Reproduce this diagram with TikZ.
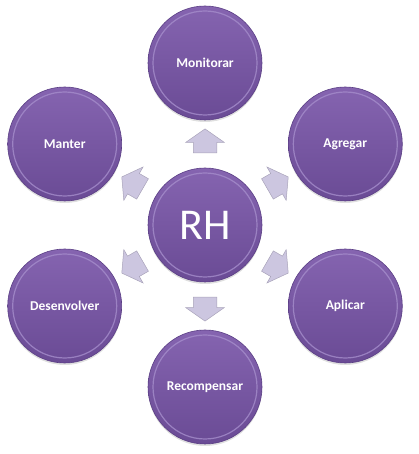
\documentclass[tikz,border=0pt]{standalone}
\usepackage{fontspec}
\newfontfamily\labelfont{Carlito}
\usetikzlibrary{calc, shapes.arrows, shadows}

\definecolor{discTop}{HTML}{8564B0}
\definecolor{discBottom}{HTML}{6A4B95}
\definecolor{discRim}{HTML}{5B3F85}
\definecolor{discGlow}{HTML}{A58DCB}
\definecolor{arrowFill}{HTML}{CCC6E0}
\definecolor{arrowLine}{HTML}{A9A3BA}

\tikzset{
  disc/.style = {circle, minimum size=114pt, inner sep=0pt, draw=discRim, line width=0.6pt,
                 top color=discTop, bottom color=discBottom, text=white,
                 drop shadow={shadow xshift=0pt, shadow yshift=-2pt, opacity=0.25}},
  discglow/.style = {discGlow, line width=1.2pt, opacity=0.8},
  outarrow/.style = {single arrow, single arrow head extend=7.5pt, single arrow tip angle=110,
                     inner xsep=0pt, inner ysep=11.5pt,
                     minimum height=24pt, fill=arrowFill, draw=arrowLine, line width=0.5pt}
}

\begin{document}
\begin{tikzpicture}[x=1pt, y=1pt]
  \useasboundingbox (0,0) rectangle (418,454);

  % centre disc
  \node[disc, font=\labelfont\fontsize{44}{48}\selectfont] (rh) at (205,229) {RH};
  \draw[discglow] (rh) circle (52);

  % outer discs and arrows
  \foreach \ang/\name/\txt in {90/monitorar/Monitorar, 30/agregar/Agregar, -30/aplicar/Aplicar,
                              -90/recompensar/Recompensar, -150/desenvolver/Desenvolver, 150/manter/Manter} {
    \node[disc, font=\labelfont\bfseries\fontsize{13.5}{15}\selectfont] (\name) at ($(rh)+(\ang:162)$) {\txt};
    \draw[discglow] (\name) circle (52);
    \node[outarrow, rotate=\ang] (arr-\name) at ($(rh)+(\ang:80)$) {};
  }
\end{tikzpicture}
\end{document}
